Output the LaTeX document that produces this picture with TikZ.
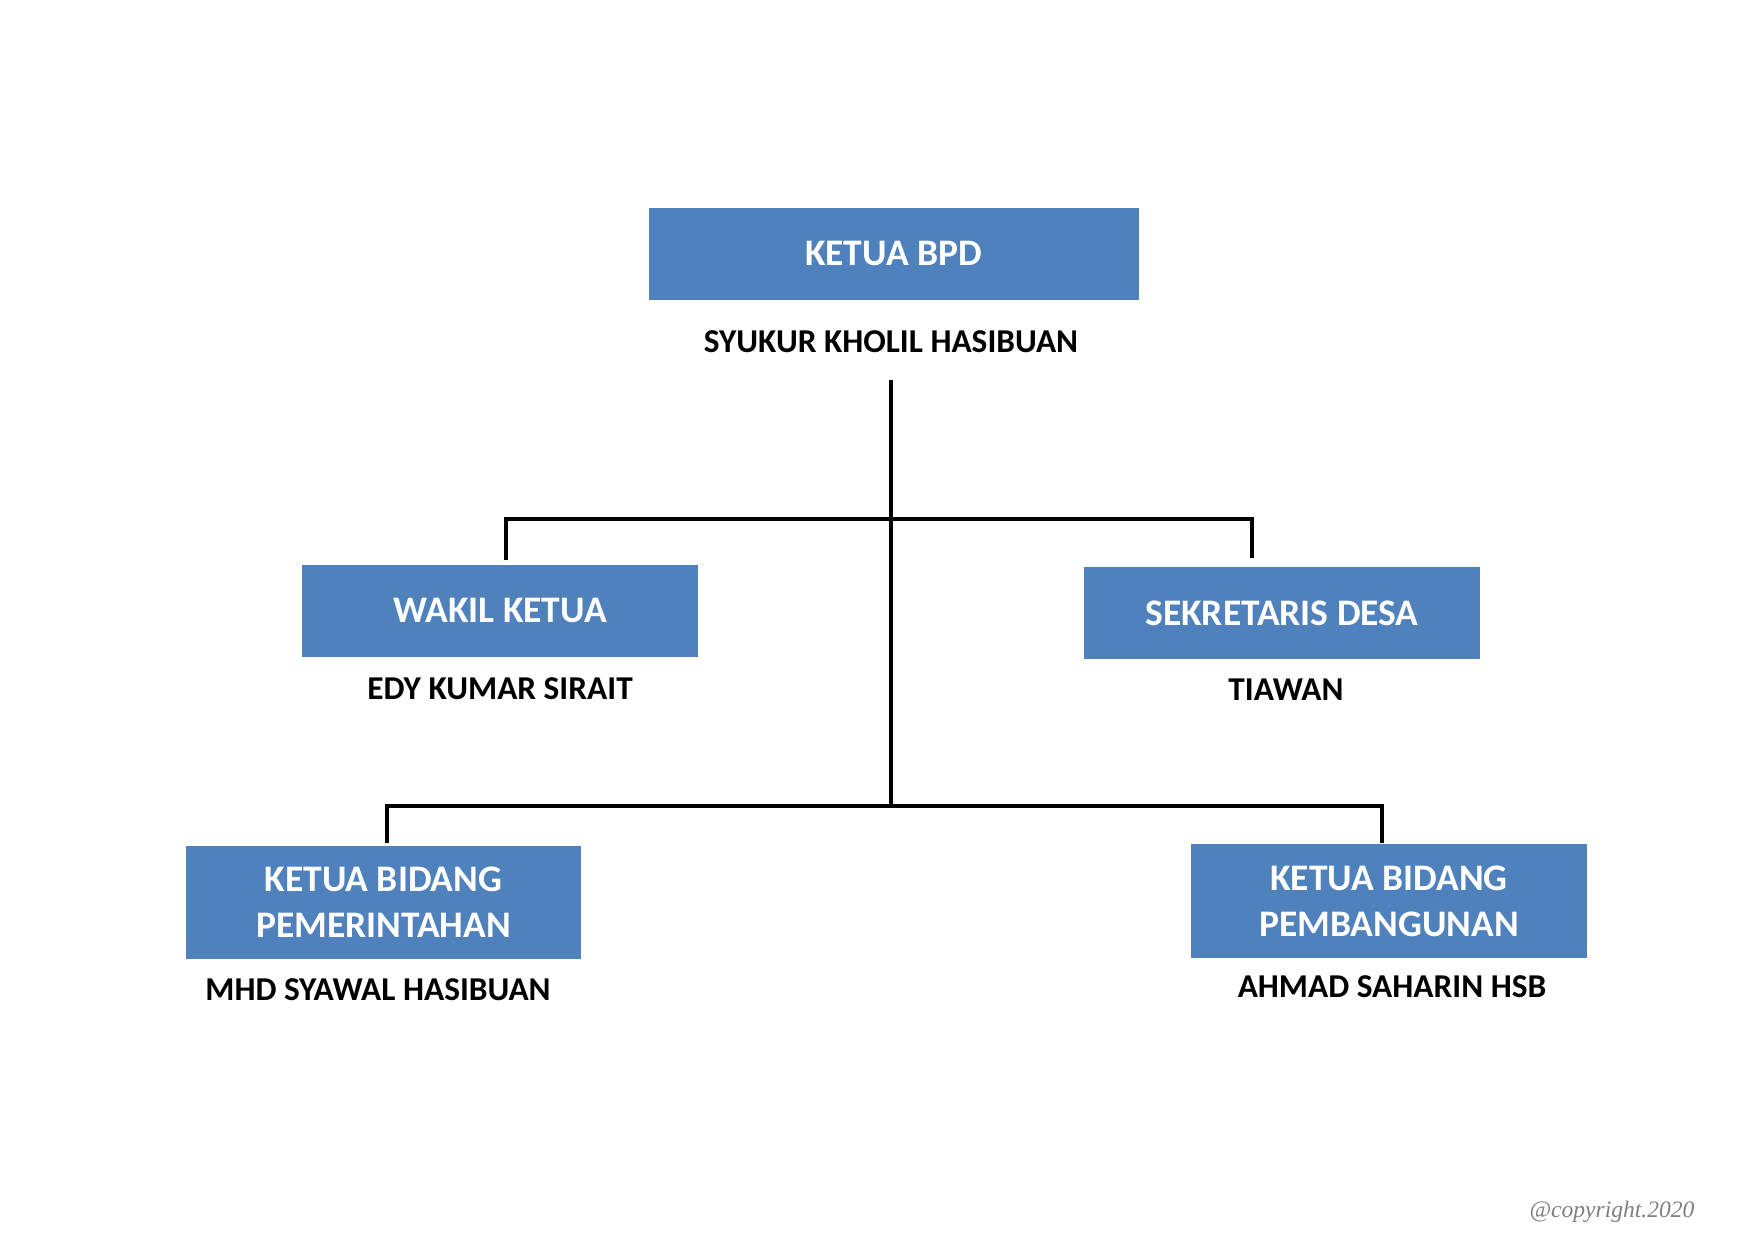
\documentclass[tikz,border=0pt]{standalone}
\usepackage{fontspec}
\setmainfont{Carlito}
\newfontfamily\cpfont{Liberation Serif}
\definecolor{boxblue}{HTML}{4F81BD}
\definecolor{cpgray}{HTML}{808080}
\begin{document}
\begin{tikzpicture}[x=0.48pt,y=-0.48pt,
  orgbox/.style={fill=boxblue,draw=boxblue,line width=0.4pt,text=white,
    font=\fontsize{18}{21}\selectfont\bfseries,align=center,inner sep=0pt},
  onebox/.style={orgbox,minimum width=189.4pt,minimum height=43.7pt},
  twobox/.style={orgbox,minimum width=189.4pt,minimum height=54pt},
  person/.style={font=\fontsize{16}{19}\selectfont\bfseries,text=black,inner sep=0pt},
  conn/.style={draw=black,line width=1.9pt,line join=miter}]
\fill[white] (0,0) rectangle (1754,1241);
\useasboundingbox (0,0) rectangle (1754,1241);

\node[orgbox,minimum width=234.7pt,minimum height=43.7pt] (bpd) at (893.5,253.5) {KETUA BPD};
\node[person] (syukur) at (891,342) {SYUKUR KHOLIL HASIBUAN};

\node[onebox] (wakil) at (500,610.5) {WAKIL KETUA};
\node[person] (edy) at (500,689) {EDY KUMAR SIRAIT};

\node[onebox] (sekre) at (1282,613) {SEKRETARIS DESA};
\node[person] (tiawan) at (1286,690) {TIAWAN};

\node[twobox] (perint) at (383.5,902.5) {KETUA BIDANG\\[1pt]PEMERINTAHAN};
\node[person] (mhd) at (378,990) {MHD SYAWAL HASIBUAN};

\node[twobox] (pemb) at (1389,901) {KETUA BIDANG\\[1pt]PEMBANGUNAN};
\node[person] (ahmad) at (1392,987) {AHMAD SAHARIN HSB};

\node[font=\cpfont\itshape\fontsize{11.3}{13}\selectfont,text=cpgray,inner sep=0pt] (copy) at (1612,1212) {@copyright.2020};

\coordinate (top) at (891,380);
\coordinate (j1) at (891,519);
\coordinate (j2) at (891,806);
\coordinate (dw) at (506,560);
\coordinate (ds) at (1252,558);
\coordinate (dp) at (387,843);
\coordinate (db) at (1382,843);

\draw[conn] (top) -- (j2);
\draw[conn] (dw) |- (j1) -| (ds);
\draw[conn] (dp) |- (j2) -| (db);
\end{tikzpicture}
\end{document}
